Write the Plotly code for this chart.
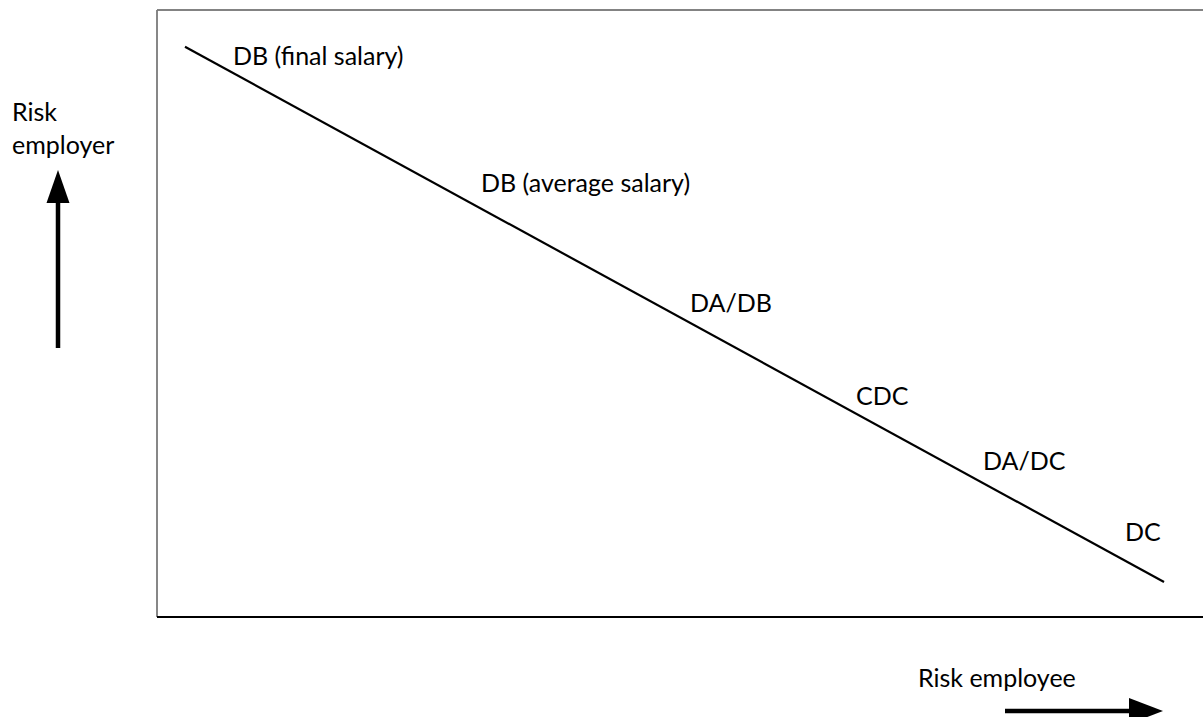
import plotly.graph_objects as go

# ---- data ----
risk_employee = [0, 10]          # x: risk borne by the employee
risk_employer = [10, 0]          # y: risk borne by the employer
schemes = ["DB (final salary)", "DB (average salary)", "DA/DB", "CDC", "DA/DC", "DC"]
scheme_x = [0.47, 3.0, 5.14, 6.83, 8.13, 9.58]
scheme_y = [9.85, 7.48, 5.23, 3.49, 2.28, 0.95]
x_title = "Risk employee"
y_title = "Risk<br>employer"

# ---- layout geometry ----
W, H = 1203, 717
ML, MR, MT, MB = 157, 0, 10, 100
PW, PH = W - ML - MR, H - MT - MB

FONT = "Lato, 'Open Sans', sans-serif"
FS = 25


def px(x):
    return (x - ML) / PW


def py(y):
    return (H - MB - y) / PH


fig = go.Figure()
fig.add_trace(go.Scatter(
    x=risk_employee, y=risk_employer, mode="lines",
    line=dict(color="black", width=2.2),
    hoverinfo="skip", showlegend=False,
))

annotations = []
for s, xv, yv in zip(schemes, scheme_x, scheme_y):
    annotations.append(dict(
        x=xv, y=yv, xref="x", yref="y", text=s, showarrow=False,
        xanchor="left", yanchor="middle",
        font=dict(family=FONT, size=FS, color="#000000"),
    ))

annotations.append(dict(
    x=px(916), y=py(677), xref="paper", yref="paper", text=x_title,
    showarrow=False, xanchor="left", yanchor="middle",
    font=dict(family=FONT, size=FS, color="#000000"),
))
annotations.append(dict(
    x=px(10), y=py(94), xref="paper", yref="paper", text=y_title,
    showarrow=False, xanchor="left", yanchor="top", align="left",
    font=dict(family=FONT, size=FS, color="#000000"),
))

shapes = [
    # frame
    dict(type="line", xref="paper", yref="paper", x0=0, x1=1.02, y0=1, y1=1,
         line=dict(color="#5a5a5a", width=1.6)),
    dict(type="line", xref="paper", yref="paper", x0=0, x1=0, y0=0, y1=1,
         line=dict(color="#7a7a7a", width=1.8)),
    dict(type="line", xref="paper", yref="paper", x0=0, x1=1.02, y0=0, y1=0,
         line=dict(color="black", width=1.8)),
    # up arrow
    dict(type="line", xref="paper", yref="paper", x0=px(58), x1=px(58), y0=py(348), y1=py(200),
         line=dict(color="black", width=4.5)),
    dict(type="path", xref="paper", yref="paper",
         path=f"M {px(46.5)},{py(203)} L {px(69.5)},{py(203)} L {px(58)},{py(170)} Z",
         fillcolor="black", line=dict(color="black", width=0)),
    # right arrow
    dict(type="line", xref="paper", yref="paper", x0=px(1005), x1=px(1132), y0=py(711), y1=py(711),
         line=dict(color="black", width=4.5)),
    dict(type="path", xref="paper", yref="paper",
         path=f"M {px(1129)},{py(698)} L {px(1129)},{py(724)} L {px(1163)},{py(711)} Z",
         fillcolor="black", line=dict(color="black", width=0)),
]

fig.update_layout(
    width=W, height=H,
    margin=dict(l=ML, r=MR, t=MT, b=MB, pad=0),
    paper_bgcolor="white", plot_bgcolor="white",
    xaxis=dict(range=[-0.286, 10.398], visible=False, fixedrange=True),
    yaxis=dict(range=[-0.654, 10.686], visible=False, fixedrange=True),
    annotations=annotations, shapes=shapes, showlegend=False,
)

fig.write_html(
    "out.html",
    config={"displayModeBar": False},
    post_script="document.body.style.margin='0';document.body.style.overflow='hidden';",
)
